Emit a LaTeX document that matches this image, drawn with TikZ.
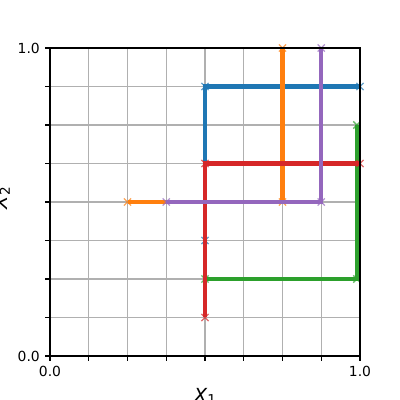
\documentclass[tikz,border=0pt]{standalone}
\usepackage{fontspec}
\setmainfont{DejaVu Sans}
\definecolor{tblue}{HTML}{1F77B4}
\definecolor{torange}{HTML}{FF7F0E}
\definecolor{tgreen}{HTML}{2CA02C}
\definecolor{tred}{HTML}{D62728}
\definecolor{tpurple}{HTML}{9467BD}
\definecolor{gridc}{HTML}{B0B0B0}
\tikzset{
  gridline/.style={draw=gridc, line width=1.1pt},
  spine/.style={draw=black, line width=1.1pt},
  tickmark/.style={draw=black, line width=1.1pt},
  pathline/.style={line width=4.2pt, line cap=butt, line join=miter},
  ticklabel/.style={font=\fontsize{13.9}{16}\selectfont, inner sep=0pt},
  axlabel/.style={font=\fontsize{19.4}{22}\selectfont, inner sep=0pt},
  xmark/.pic={\draw[line width=1.4pt, opacity=0.7, draw=#1] (-3.6pt,-3.6pt) -- (3.6pt,3.6pt) (-3.6pt,3.6pt) -- (3.6pt,-3.6pt);},
}
\begin{document}
\begin{tikzpicture}[x=1pt,y=1pt]
\useasboundingbox (0,0) rectangle (400,400);
\fill[white] (0,0) rectangle (400,400);
\begin{scope}[shift={(50pt,44pt)}, x=310pt, y=308pt]
  % grid
  \foreach \i in {0,0.125,...,1.01} {
    \draw[gridline] (\i,0) -- (\i,1);
    \draw[gridline] (0,\i) -- (1,\i);
  }
  % ticks
  \foreach \i in {0,0.125,...,1.01} {
    \draw[tickmark] (\i,0) -- ++(0,-4.9pt);
    \draw[tickmark] (0,\i) -- ++(-4.9pt,0);
  }
  % named points
  \coordinate (b1) at (0.5,0.375); \coordinate (b2) at (0.5,0.875); \coordinate (b3) at (1,0.875);
  \coordinate (o1) at (0.25,0.5); \coordinate (o2) at (0.75,0.5); \coordinate (o3) at (0.75,1);
  \coordinate (g1) at (0.5,0.25); \coordinate (g2) at (0.99,0.25); \coordinate (g3) at (0.99,0.75);
  \coordinate (r1) at (0.5,0.125); \coordinate (r2) at (0.5,0.625); \coordinate (r3) at (1,0.625);
  \coordinate (p1) at (0.375,0.5); \coordinate (p2) at (0.875,0.5); \coordinate (p3) at (0.875,1);
  \foreach \c/\n in {tblue/b, torange/o, tgreen/g, tred/r, tpurple/p} {
    \draw[pathline, draw=\c] (\n1) -- (\n2) -- (\n3);
    \foreach \k in {1,2,3} \pic at (\n\k) {xmark=\c};
  }
  % spines
  \draw[spine] (0,0) rectangle (1,1);
  % tick labels
  \node[ticklabel, anchor=north] (xt0) at ([yshift=-10pt]0,0) {0.0};
  \node[ticklabel, anchor=north] (xt1) at ([yshift=-10pt]1,0) {1.0};
  \node[ticklabel, anchor=east] (yt0) at ([xshift=-10pt]0,0) {0.0};
  \node[ticklabel, anchor=east] (yt1) at ([xshift=-10pt]0,1) {1.0};
\end{scope}
% axis labels
\node[axlabel, anchor=base] (xl) at (205,-2) {\textit{X}\raisebox{-3pt}{\fontsize{13.6}{15}\selectfont 1}};
\node[axlabel, anchor=base, rotate=90] (yl) at (7,202) {\textit{X}\raisebox{-3pt}{\fontsize{13.6}{15}\selectfont 2}};
\end{tikzpicture}
\end{document}
